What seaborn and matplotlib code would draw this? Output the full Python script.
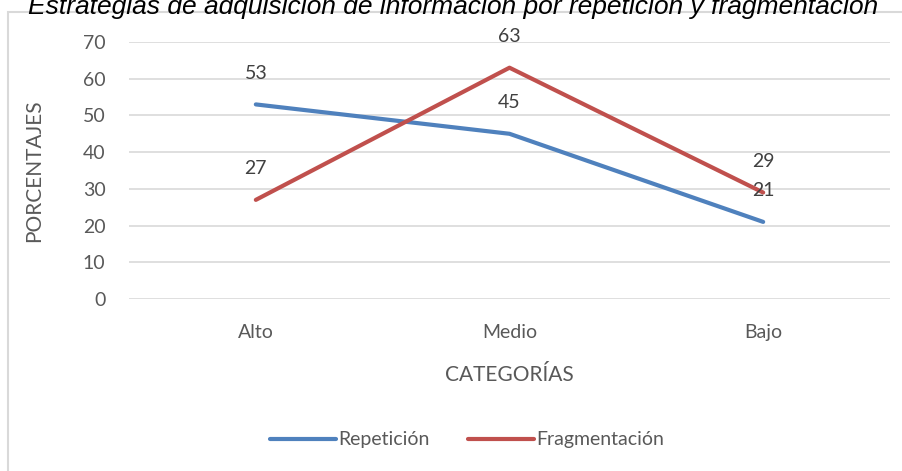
import seaborn as sns
import matplotlib.pyplot as plt
import pandas as pd
from matplotlib.patches import Rectangle

categorias = ["Alto", "Medio", "Bajo"]
repeticion = [53, 45, 21]
fragmentacion = [27, 63, 29]
series = ["Repetición", "Fragmentación"]

df = pd.DataFrame({
    "categoria": categorias * 2,
    "valor": repeticion + fragmentacion,
    "serie": [series[0]] * 3 + [series[1]] * 3,
})

sns.set_theme(style="white")
plt.rcParams["font.family"] = ["Lato", "DejaVu Sans"]

fig = plt.figure(figsize=(9.03, 4.71), dpi=100)
ax = fig.add_axes([129 / 903, 1 - 299 / 471, (890 - 129) / 903, (299 - 42) / 471])

# outer chart frame (cut on the right and bottom)
fig.patches.append(Rectangle((8 / 903, -0.1), 1.2, 1 - 12 / 471 + 0.1,
                             transform=fig.transFigure, fill=False,
                             edgecolor="#D9D9D9", linewidth=1.5))

colores = {"Repetición": "#4F81BD", "Fragmentación": "#C0504D"}
sns.lineplot(data=df, x="categoria", y="valor", hue="serie", palette=colores,
             linewidth=3, ax=ax, sort=False)

for serie, valores in zip(series, [repeticion, fragmentacion]):
    for i, v in enumerate(valores):
        ax.annotate(str(v), (i, v), xytext=(0, 22.5), textcoords="offset points",
                    ha="center", va="center", fontsize=14, color="#404040")

ax.set_xlim(-0.5, 2.5)
ax.set_ylim(0, 70)
ax.set_yticks(range(0, 71, 10))
ax.grid(axis="y", color="#D9D9D9", linewidth=1.2)
for s in ax.spines.values():
    s.set_visible(False)
ax.tick_params(axis="both", labelsize=14, labelcolor="#595959", length=0)
ax.tick_params(axis="x", pad=18)
ax.tick_params(axis="y", pad=17)
ax.set_xlabel("CATEGORÍAS", fontsize=15, color="#595959", labelpad=17)
ax.set_ylabel("PORCENTAJES", fontsize=15, color="#595959", labelpad=28)

ax.legend(loc="center", bbox_to_anchor=(467 / 903, 1 - 440 / 471),
          bbox_transform=fig.transFigure, ncol=2, frameon=False,
          fontsize=14, labelcolor="#595959", handlelength=3.4,
          handletextpad=0.1, columnspacing=2.0)

fig.text(453 / 903, 1 - 14 / 471,
         "Estrategias de adquisición de información por repetición y fragmentación",
         ha="center", va="baseline", fontsize=19, style="italic",
         family="Liberation Sans", color="#000000")

fig.savefig("out.png", dpi=100)
